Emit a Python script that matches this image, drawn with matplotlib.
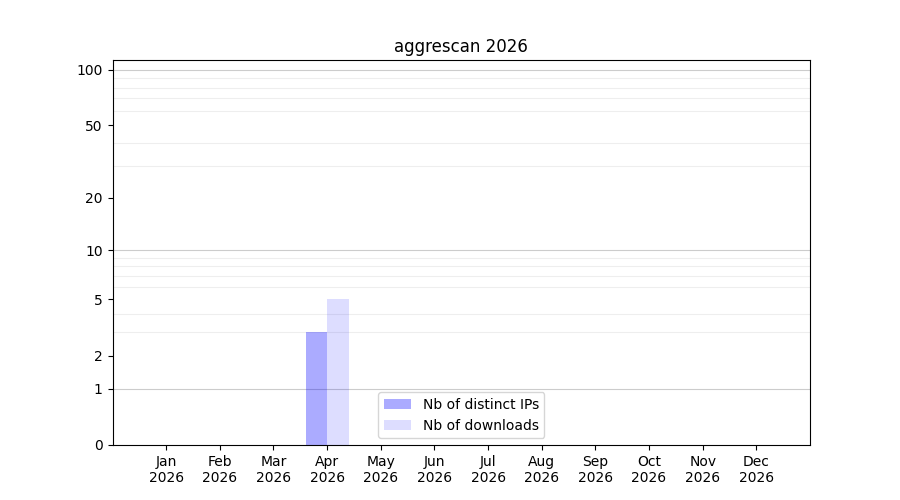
import numpy as np
import matplotlib
matplotlib.use("Agg")
import matplotlib.pyplot as plt

# monthly stats for the year
months = ["Jan", "Feb", "Mar", "Apr", "May", "Jun", "Jul", "Aug", "Sep", "Oct", "Nov", "Dec"]
year = "2026"
distinct_ips = [0, 0, 0, 3, 0, 0, 0, 0, 0, 0, 0, 0]
downloads = [0, 0, 0, 5, 0, 0, 0, 0, 0, 0, 0, 0]
ytick_values = [0, 1, 2, 5, 10, 20, 50, 100]


def forward(v):
    return np.log10(1 + np.clip(v, 0, None))


def inverse(v):
    return 10 ** v - 1


x = np.arange(len(months))
width = 0.4

fig, ax = plt.subplots(figsize=(9, 5), dpi=100)
ax.set_yscale("function", functions=(forward, inverse))

ax.bar(x - width / 2, distinct_ips, width, color="blue", alpha=0.33, linewidth=0, label="Nb of distinct IPs")
ax.bar(x + width / 2, downloads, width, color="blue", alpha=0.135, linewidth=0, label="Nb of downloads")

ax.set_xticks(x)
ax.set_xticklabels([m + "\n" + year for m in months])
ax.set_xlim(-1, 12)

ax.set_ylim(0, 113)
ax.set_yticks(ytick_values)
ax.set_yticklabels([str(v) for v in ytick_values])
minor = [v for v in range(2, 10)] + [v for v in range(20, 100, 10)]
ax.set_yticks(minor, minor=True)
ax.tick_params(axis="y", which="minor", length=0)
ax.grid(axis="y", which="minor", color="#eeeeee", linewidth=0.8)
for v in [1, 10, 100]:
    ax.axhline(v, color="#cccccc", linewidth=0.8, zorder=0.5)
ax.set_axisbelow(True)

ax.set_title("aggrescan " + year)
ax.legend(loc="lower center")

plt.savefig("out.png")
